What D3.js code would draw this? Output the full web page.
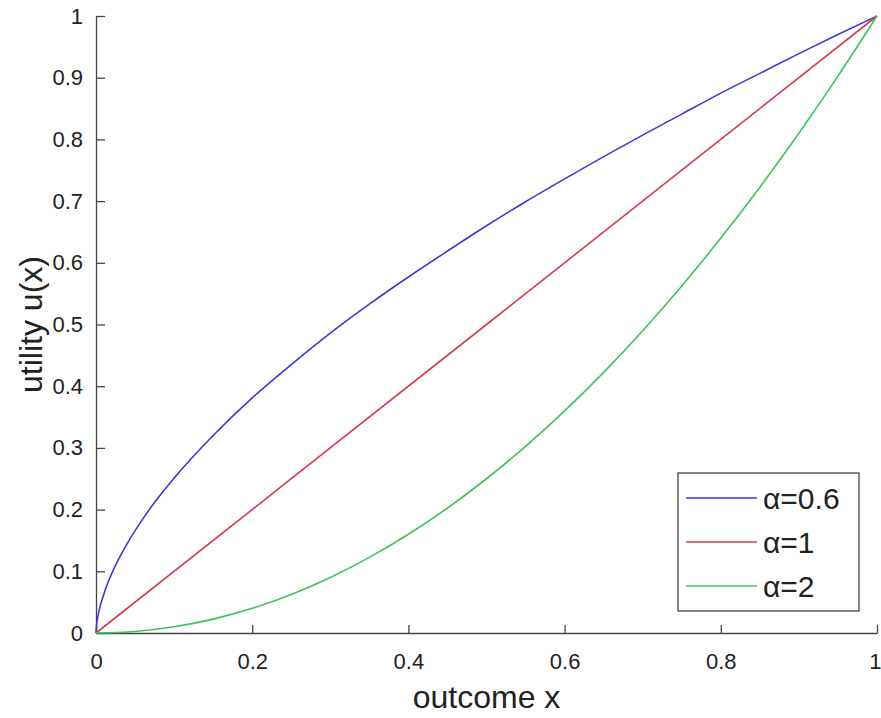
<!DOCTYPE html>
<html>
<head>
<meta charset="utf-8">
<script src="https://cdn.jsdelivr.net/npm/d3@7"></script>
<style>
  body { margin: 0; background: #fff; }
  #chart text { font-family: "Liberation Sans", Arial, sans-serif; fill: #222; }
</style>
</head>
<body>
<div id="chart"></div>
<script>
// values
const xTicks = [0, 0.2, 0.4, 0.6, 0.8, 1];
const yTicks = [0, 0.1, 0.2, 0.3, 0.4, 0.5, 0.6, 0.7, 0.8, 0.9, 1];

const xsBlue = [0, 0.001, 0.002, 0.003, 0.005, 0.0075, 0.01, 0.015, 0.02, 0.03, 0.04, 0.06, 0.08, 0.1, 0.15, 0.2, 0.25, 0.3, 0.35, 0.4, 0.45, 0.5, 0.55, 0.6, 0.65, 0.7, 0.75, 0.8, 0.85, 0.9, 0.95, 1];
const ysBlue = [0, 0.016, 0.024, 0.031, 0.042, 0.053, 0.063, 0.081, 0.096, 0.122, 0.145, 0.185, 0.22, 0.251, 0.32, 0.381, 0.435, 0.486, 0.533, 0.577, 0.619, 0.66, 0.699, 0.736, 0.772, 0.807, 0.841, 0.875, 0.907, 0.939, 0.97, 1];

const xsRed = [0, 0.5, 1];
const ysRed = [0, 0.5, 1];

const xsGreen = [0, 0.05, 0.1, 0.15, 0.2, 0.25, 0.3, 0.35, 0.4, 0.45, 0.5, 0.55, 0.6, 0.65, 0.7, 0.75, 0.8, 0.85, 0.9, 0.95, 1];
const ysGreen = [0, 0.0025, 0.01, 0.0225, 0.04, 0.0625, 0.09, 0.1225, 0.16, 0.2025, 0.25, 0.3025, 0.36, 0.4225, 0.49, 0.5625, 0.64, 0.7225, 0.81, 0.9025, 1];

const seriesNames = ["\u03b1=0.6", "\u03b1=1", "\u03b1=2"];
const colors = ["#3a3ad4", "#d23c4c", "#3cc35c"];

function draw() {
  const dims = { width: 881, height: 718, left: 96, right: 877, top: 16, bottom: 633 };

  const svg = d3.select("#chart")
    .append("svg")
    .attr("width", dims.width)
    .attr("height", dims.height);

  const xScale = d3.scaleLinear().domain([0, 1]).range([dims.left, dims.right]);
  const yScale = d3.scaleLinear().domain([0, 1]).range([dims.bottom, dims.top]);

  // Axes (inward ticks, like matlab)
  const xAxis = d3.axisBottom(xScale)
    .tickValues(xTicks)
    .tickFormat(d3.format("~g"))
    .tickSizeInner(-8)
    .tickSizeOuter(0);
  const yAxis = d3.axisLeft(yScale)
    .tickValues(yTicks)
    .tickFormat(d3.format("~g"))
    .tickSizeInner(-9)
    .tickSizeOuter(0)
    .tickPadding(13);

  const gx = svg.append("g")
    .attr("transform", `translate(0, ${dims.bottom})`)
    .call(xAxis);
  const gy = svg.append("g")
    .attr("transform", `translate(${dims.left}, 0)`)
    .call(yAxis);

  [gx, gy].forEach(g => {
    g.select(".domain").attr("stroke", "#444").attr("stroke-width", 1.3);
    g.selectAll(".tick line").attr("stroke", "#444").attr("stroke-width", 1.3);
    g.selectAll(".tick text").style("font-size", "22px").attr("fill", "#222");
  });
  gx.selectAll(".tick text").attr("dy", "0.71em").attr("y", 20);
  // last label sits at the window edge
  gx.selectAll(".tick text").filter(d => d === 1).attr("text-anchor", "end").attr("dx", 4);

  // Axis labels
  svg.append("text")
    .attr("x", (dims.left + dims.right) / 2)
    .attr("y", 708)
    .attr("text-anchor", "middle")
    .style("font-size", "32px")
    .text("outcome x");

  svg.append("text")
    .attr("transform", `translate(42, ${(dims.top + dims.bottom) / 2}) rotate(-90)`)
    .attr("text-anchor", "middle")
    .style("font-size", "32px")
    .text("utility u(x)");

  // Lines
  const series = [
    xsBlue.map((x, i) => [x, ysBlue[i]]),
    xsRed.map((x, i) => [x, ysRed[i]]),
    xsGreen.map((x, i) => [x, ysGreen[i]])
  ];

  const lineGenerator = d3.line()
    .x(d => xScale(d[0]))
    .y(d => yScale(d[1]))
    .curve(d3.curveMonotoneX);

  series.forEach((data, i) => {
    svg.append("path")
      .datum(data)
      .attr("d", lineGenerator)
      .attr("fill", "none")
      .attr("stroke", colors[i])
      .attr("stroke-width", 1.6);
  });

  // Legend
  const legend = svg.append("g").attr("transform", "translate(678, 473)");
  legend.append("rect")
    .attr("width", 181)
    .attr("height", 138)
    .attr("fill", "#fff")
    .attr("stroke", "#444")
    .attr("stroke-width", 1.3);

  seriesNames.forEach((name, i) => {
    const y = 25 + i * 44;
    legend.append("line")
      .attr("x1", 8).attr("x2", 79)
      .attr("y1", y).attr("y2", y)
      .attr("stroke", colors[i])
      .attr("stroke-width", 1.6);
    legend.append("text")
      .attr("x", 85)
      .attr("y", y)
      .attr("dy", "0.36em")
      .style("font-size", "30px")
      .text(name);
  });
}

draw();
</script>
</body>
</html>
